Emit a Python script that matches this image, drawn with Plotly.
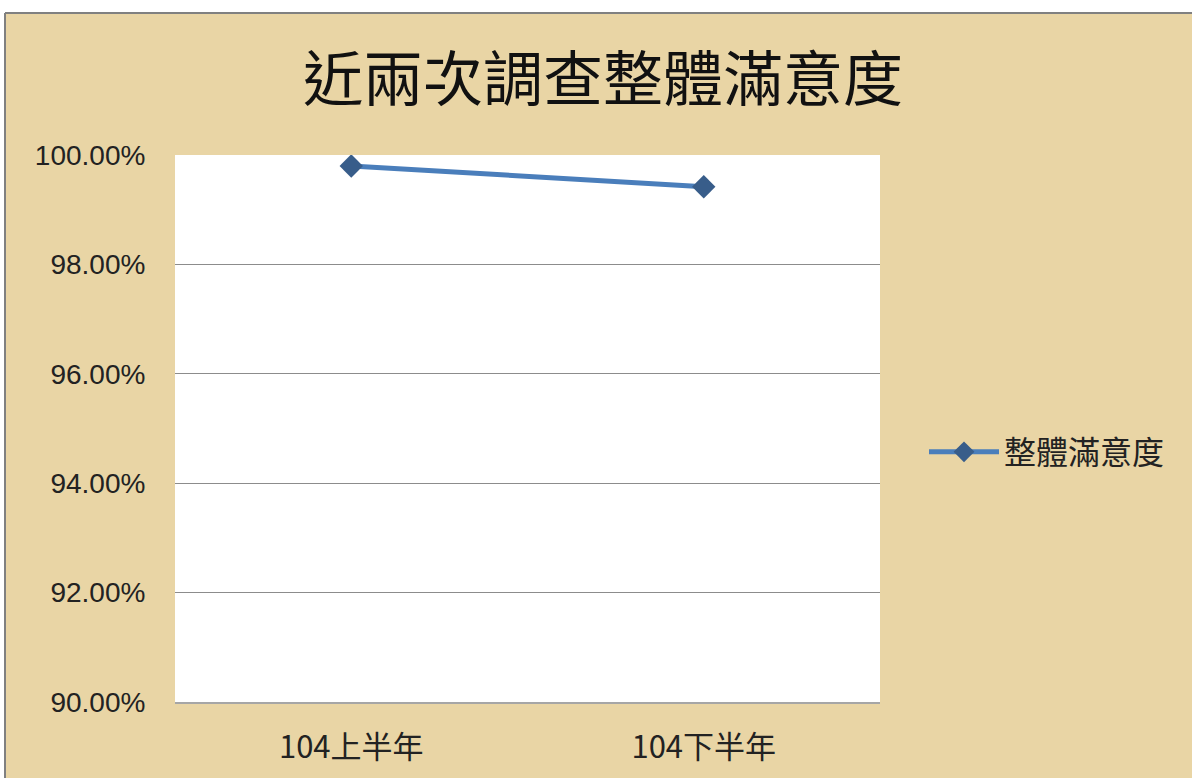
import plotly.graph_objects as go

categories = ["104上半年", "104下半年"]
satisfaction = [0.998, 0.9942]
series_name = "整體滿意度"
title_text = "近兩次調查整體滿意度"
y_ticks = [0.90, 0.92, 0.94, 0.96, 0.98, 1.00]

W, H = 1192, 778
L, R, T, B = 175, 312, 155, 76
pw, ph = W - L - R, H - T - B

fig = go.Figure()
fig.add_trace(go.Scatter(
    x=categories, y=satisfaction, name=series_name, mode="lines+markers",
    line=dict(color="#4A7EBB", width=5),
    marker=dict(symbol="diamond", size=18, color="#385D8A"),
))

def px_x(x):
    return (x - L) / pw

def px_y(y):
    return (H - B - y) / ph

shapes = [
    dict(type="rect", xref="paper", yref="paper", x0=px_x(0), x1=px_x(W), y0=px_y(13), y1=px_y(0),
         fillcolor="white", line_width=0, layer="below"),
    dict(type="rect", xref="paper", yref="paper", x0=px_x(0), x1=px_x(5), y0=px_y(H), y1=px_y(13),
         fillcolor="white", line_width=0, layer="below"),
    dict(type="line", xref="paper", yref="paper", x0=px_x(5), x1=px_x(5), y0=px_y(H), y1=px_y(13),
         line=dict(color="#808080", width=2), layer="below"),
    dict(type="line", xref="paper", yref="paper", x0=px_x(5), x1=px_x(W), y0=px_y(13), y1=px_y(13),
         line=dict(color="#808080", width=2), layer="below"),
]

fig.update_layout(
    width=W, height=H,
    margin=dict(l=L, r=R, t=T, b=B),
    paper_bgcolor="#E9D5A5",
    plot_bgcolor="white",
    shapes=shapes,
    title=dict(text=title_text, xref="container", x=603 / W, xanchor="center",
               y=1 - 80 / H, yanchor="middle",
               font=dict(family="Noto Sans CJK TC", size=60, color="#111111")),
    showlegend=True,
    legend=dict(x=px_x(924), xanchor="left", y=px_y(452), yanchor="middle",
                font=dict(family="Noto Sans CJK TC", size=32, color="#222222"),
                bgcolor="rgba(0,0,0,0)", itemwidth=70),
    xaxis=dict(range=[-0.5, 1.5], showgrid=False, showline=True, linecolor="#A6A6A6", linewidth=2,
               tickfont=dict(family="Noto Sans CJK TC", size=31, color="#222222"),
               ticks="outside", ticklen=17, tickcolor="rgba(0,0,0,0)", fixedrange=True),
    yaxis=dict(range=[0.90, 1.00], tickvals=y_ticks, tickformat=".2%",
               showgrid=True, gridcolor="#8C8C8C", gridwidth=1, zeroline=False,
               showline=False,
               tickfont=dict(family="Liberation Sans", size=28, color="#222222"),
               ticks="outside", ticklen=23, tickcolor="rgba(0,0,0,0)"),
)

fig.write_html("out.html", config={"displayModeBar": False},
               post_script="document.body.style.margin='0';document.body.style.overflow='hidden';")
